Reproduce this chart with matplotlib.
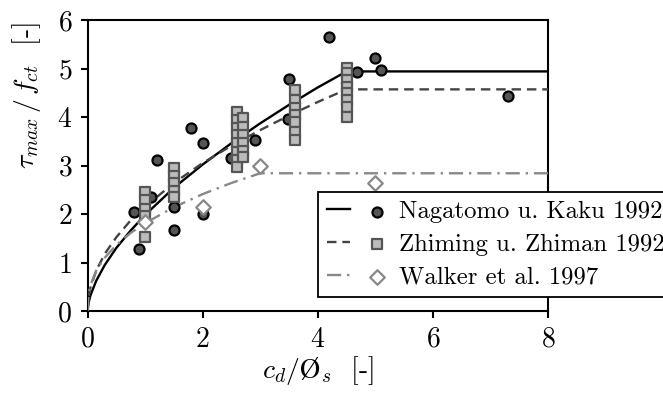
import matplotlib
matplotlib.use("Agg")
import matplotlib.pyplot as plt
from matplotlib.legend_handler import HandlerTuple

plt.rcParams.update({
    "font.family": "serif",
    "font.serif": ["cmr10"],
    "mathtext.fontset": "cm",
    "axes.formatter.use_mathtext": True,
    "font.size": 20,
})

# Design curves (cover / bar diameter vs. normalised bond strength)
curve_x = [0, 0.02, 0.05, 0.15, 0.3, 0.5, 0.75, 1.0, 1.5, 2.0, 2.5, 3.0, 3.5, 4.0, 4.5, 8.0]
nagatomo_curve = [0, 0.18, 0.32, 0.62, 0.95, 1.30, 1.66, 1.98, 2.54, 3.02, 3.46, 3.87, 4.25, 4.61, 4.94, 4.94]
zhiming_curve = [0, 0.30, 0.48, 0.83, 1.18, 1.52, 1.87, 2.15, 2.64, 3.05, 3.41, 3.73, 4.03, 4.31, 4.57, 4.57]
walker_x = [0, 0.02, 0.05, 0.15, 0.3, 0.5, 0.75, 1.0, 1.5, 2.0, 2.5, 3.0, 8.0]
walker_curve = [0, 0.36, 0.53, 0.83, 1.10, 1.36, 1.61, 1.81, 2.14, 2.41, 2.64, 2.84, 2.84]

# Test results
nagatomo_x = [0.80, 0.90, 1.11, 1.20, 1.51, 1.51, 1.80, 2.00, 2.01, 2.50, 2.91, 3.48, 3.50, 4.19, 4.69, 4.99, 5.10, 7.30]
nagatomo_y = [2.05, 1.27, 2.36, 3.12, 2.14, 1.66, 3.77, 3.47, 2.01, 3.15, 3.53, 3.96, 4.78, 5.64, 4.92, 5.21, 4.97, 4.43]

zhiming_x = [1.0, 1.0, 1.0, 1.0, 1.0,
             1.5, 1.5, 1.5, 1.5, 1.5,
             2.6, 2.6, 2.6, 2.6, 2.6, 2.6, 2.6, 2.6,
             2.7, 2.7, 2.7, 2.7, 2.7, 2.7,
             3.6, 3.6, 3.6, 3.6, 3.6, 3.6, 3.6,
             4.5, 4.5, 4.5, 4.5, 4.5, 4.5, 4.5, 4.5]
zhiming_y = [2.46, 2.29, 2.10, 1.95, 1.53,
             2.94, 2.78, 2.63, 2.48, 2.36,
             4.11, 3.94, 3.78, 3.62, 3.46, 3.28, 3.11, 2.96,
             3.97, 3.80, 3.63, 3.46, 3.30, 3.18,
             4.56, 4.35, 4.18, 4.04, 3.90, 3.70, 3.53,
             5.02, 4.90, 4.76, 4.62, 4.49, 4.35, 4.21, 4.01]

walker_px = [1.0, 2.01, 2.99, 4.99]
walker_py = [1.84, 2.14, 2.98, 2.63]

labels = ["Nagatomo u. Kaku 1992", "Zhiming u. Zhiman 1992", "Walker et al. 1997"]
x_ticks = [0, 2, 4, 6, 8]
y_ticks = [0, 1, 2, 3, 4, 5, 6]

fig = plt.figure(figsize=(6.63, 3.97), dpi=100)
ax = fig.add_axes([0.132, 0.2166, 0.6946, 0.733])

l1, = ax.plot(curve_x, nagatomo_curve, color="black", lw=1.7, zorder=3)
l2, = ax.plot(curve_x, zhiming_curve, color="#444444", lw=1.7, ls=(0, (4, 2.5)), zorder=3)
l3, = ax.plot(walker_x, walker_curve, color="#888888", lw=1.7, ls=(0, (6, 2.5, 1, 2.5)), zorder=3)

m1 = ax.scatter(nagatomo_x, nagatomo_y, s=52, marker="o", facecolor="#555555",
                edgecolor="black", linewidth=1.6, zorder=4)
m2 = ax.scatter(zhiming_x, zhiming_y, s=42, marker="s", facecolor="#bbbbbb",
                edgecolor="#555555", linewidth=1.6, zorder=5)
m3 = ax.scatter(walker_px, walker_py, s=55, marker="D", facecolor="white",
                edgecolor="#888888", linewidth=1.6, zorder=5)

ax.set_xlim(0, 8)
ax.set_ylim(0, 6)
ax.set_xticks(x_ticks)
ax.set_yticks(y_ticks)
ax.tick_params(direction="out", length=5, width=1.5)
ax.tick_params(axis="x", pad=6)
ax.tick_params(axis="y", pad=6)
for sp in ax.spines.values():
    sp.set_linewidth(1.5)

ax.set_xlabel(r"$c_d/\mathrm{\O}_s$  [-]", labelpad=1)
ax.set_ylabel(r"$\tau_{max}\,/\,f_{ct}$  [-]")
ax.yaxis.set_label_coords(-0.097, 0.74)

leg = fig.legend([(l1, m1), (l2, m2), (l3, m3)], labels,
                 handler_map={tuple: HandlerTuple(ndivide=None, pad=0.6)},
                 loc="upper left", bbox_to_anchor=(0.48, 0.516),
                 borderaxespad=0.0,
                 fancybox=False, framealpha=1, edgecolor="black",
                 handlelength=2.5, borderpad=0.35, labelspacing=0.42,
                 handletextpad=0.4, fontsize=17.8)
leg.get_frame().set_linewidth(1.3)

fig.savefig("out.png", dpi=100)
